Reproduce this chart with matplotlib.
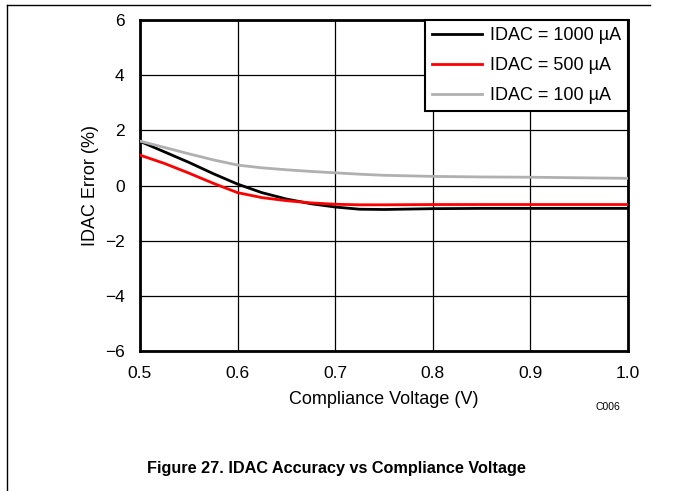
import matplotlib.pyplot as plt
from matplotlib.lines import Line2D

plt.rcParams['font.family'] = ['Liberation Sans', 'DejaVu Sans']

# ----------------- Data -----------------
voltage = [0.5, 0.525, 0.55, 0.575, 0.6, 0.625, 0.65, 0.675, 0.7, 0.725, 0.75, 0.8, 0.85, 0.9, 0.95, 1.0]
err_1000 = [1.6, 1.22, 0.84, 0.43, 0.05, -0.26, -0.49, -0.66, -0.78, -0.86, -0.87, -0.84, -0.83, -0.83, -0.83, -0.83]
err_500 = [1.1, 0.8, 0.45, 0.08, -0.26, -0.44, -0.55, -0.63, -0.68, -0.70, -0.70, -0.69, -0.69, -0.69, -0.69, -0.69]
err_100 = [1.61, 1.38, 1.15, 0.93, 0.74, 0.64, 0.57, 0.51, 0.46, 0.41, 0.37, 0.33, 0.31, 0.30, 0.28, 0.26]

labels = ["IDAC = 1000 µA", "IDAC = 500 µA", "IDAC = 100 µA"]
colors = ["black", "red", "#b0b0b0"]

# ----------------- Plot -----------------
fig = plt.figure(figsize=(6.73, 4.91), dpi=100)
ax = fig.add_axes([140/673, 1 - 351/491, 488/673, 331/491])

for y, lab, c in zip([err_1000, err_500, err_100], labels, colors):
    ax.plot(voltage, y, color=c, lw=2, label=lab, zorder=3)

ax.set_xlim(0.5, 1.0)
ax.set_ylim(-6, 6)
ax.set_xticks([0.5, 0.6, 0.7, 0.8, 0.9, 1.0])
ax.set_xticklabels(["0.5", "0.6", "0.7", "0.8", "0.9", "1.0"])
ax.set_yticks([-6, -4, -2, 0, 2, 4, 6])
ax.set_yticklabels(["\u22126", "\u22124", "\u22122", "0", "2", "4", "6"])
ax.tick_params(length=0, labelsize=12.5)
ax.tick_params(axis="x", pad=11)
ax.tick_params(axis="y", pad=11)
ax.grid(True, color="black", lw=0.9)
for s in ax.spines.values():
    s.set_linewidth(2)

ax.set_xlabel("Compliance Voltage (V)", fontsize=13, labelpad=7)
ax.set_ylabel("IDAC Error (%)", fontsize=13, labelpad=4)

leg = ax.legend(loc="upper right", fontsize=13, frameon=True, fancybox=False,
                borderaxespad=0, handlelength=2.8, labelspacing=0.72,
                borderpad=0.4, handletextpad=0.4)
leg.get_frame().set_edgecolor("black")
leg.get_frame().set_linewidth(1.5)
leg.get_frame().set_alpha(1)

fig.text(608/673, 1 - 407/491, "C006", fontsize=7.5, ha="center", va="center")
fig.text(336/673, 1 - 469/491, "Figure 27. IDAC Accuracy vs Compliance Voltage",
         fontsize=11.7, fontweight="bold", ha="center", va="center")

# page frame
fig.add_artist(Line2D([7/673, 7/673], [0, 1 - 5/491], color="black", lw=1, transform=fig.transFigure))
fig.add_artist(Line2D([7/673, 650/673], [1 - 5/491, 1 - 5/491], color="black", lw=1, transform=fig.transFigure))

fig.savefig("out.png", dpi=100)
